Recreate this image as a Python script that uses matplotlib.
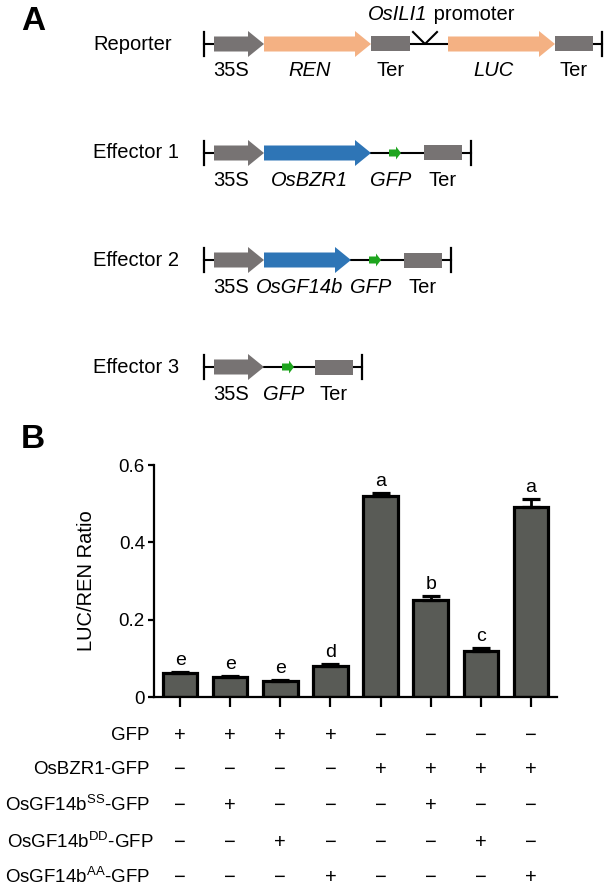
import matplotlib.pyplot as plt
from matplotlib.patches import Polygon, Rectangle
from matplotlib.transforms import blended_transform_factory

plt.rcParams['font.family'] = 'Liberation Sans'
plt.rcParams['mathtext.fontset'] = 'custom'
plt.rcParams['mathtext.rm'] = 'Liberation Sans'
plt.rcParams['mathtext.it'] = 'Liberation Sans:italic'

# ---- panel A: the constructs ----
construct_names = ['Reporter', 'Effector 1', 'Effector 2', 'Effector 3']
# (label, kind, length in px)
reporter_parts = [('35S', 'arrow', 50), ('REN', 'arrow', 107), ('Ter', 'box', 39),
                  ('', 'promoter', 38), ('LUC', 'arrow', 107), ('Ter', 'box', 38)]
effector1_parts = [('35S', 'arrow', 50), ('OsBZR1', 'arrow', 107), ('GFP', 'gfp', 53), ('Ter', 'box', 38)]
effector2_parts = [('35S', 'arrow', 50), ('OsGF14b', 'arrow', 87), ('GFP', 'gfp', 53), ('Ter', 'box', 38)]
effector3_parts = [('35S', 'arrow', 50), ('GFP', 'gfp', 51), ('Ter', 'box', 38)]
constructs = [reporter_parts, effector1_parts, effector2_parts, effector3_parts]
italic_labels = ['REN', 'LUC', 'OsBZR1', 'OsGF14b', 'GFP']

# ---- panel B: dual luciferase ----
ratio = [0.062, 0.052, 0.041, 0.080, 0.520, 0.251, 0.120, 0.491]
sem = [0.003, 0.003, 0.004, 0.005, 0.008, 0.010, 0.008, 0.022]
letters = ['e', 'e', 'e', 'd', 'a', 'b', 'c', 'a']
row_labels = ['GFP', 'OsBZR1-GFP', r'OsGF14b$^{\mathrm{SS}}$-GFP',
              r'OsGF14b$^{\mathrm{DD}}$-GFP', r'OsGF14b$^{\mathrm{AA}}$-GFP']
presence = [[1, 1, 1, 1, 0, 0, 0, 0],
            [0, 0, 0, 0, 1, 1, 1, 1],
            [0, 1, 0, 0, 0, 1, 0, 0],
            [0, 0, 1, 0, 0, 0, 1, 0],
            [0, 0, 0, 1, 0, 0, 0, 1]]

GRAY = '#777373'
PEACH = '#f4b183'
BLUE = '#2e75b6'
GREEN = '#1ea51e'
BAR = '#595b56'
part_colors = {'35S': GRAY, 'Ter': GRAY, 'REN': PEACH, 'LUC': PEACH,
               'OsBZR1': BLUE, 'OsGF14b': BLUE}

fig = plt.figure(figsize=(6.08, 8.88), dpi=100)
ax0 = fig.add_axes([0, 0, 1, 1])
ax0.set_xlim(0, 608)
ax0.set_ylim(888, 0)
ax0.axis('off')

ax0.text(21, 22, 'A', fontsize=24, fontweight='bold', va='center', ha='left')
ax0.text(21, 439, 'B', fontsize=24, fontweight='bold', va='center', ha='left')


def arrow(x0, length, y, color, body=7.5, head=13, hl=16):
    xh = x0 + length - hl
    pts = [(x0, y - body), (xh, y - body), (xh, y - head), (x0 + length, y),
           (xh, y + head), (xh, y + body), (x0, y + body)]
    ax0.add_patch(Polygon(pts, closed=True, fc=color, ec='none', zorder=3))


row_y = [44, 153, 260, 367]
tick_x = 204
for name, parts, y in zip(construct_names, constructs, row_y):
    ax0.text(93, y, name, fontsize=14.5, va='center', ha='left')
    ax0.plot([tick_x, tick_x], [y - 12, y + 12], color='black', lw=1.6)
    x = tick_x + 10
    ax0.plot([tick_x, x], [y, y], color='black', lw=1.5)
    for label, kind, length in parts:
        if kind == 'arrow':
            arrow(x, length, y, part_colors[label])
            lx = x + (length - 16) / 2
        elif kind == 'box':
            ax0.add_patch(Rectangle((x, y - 7.5), length, 15, fc=part_colors[label], ec='none', zorder=3))
            lx = x + length / 2
        elif kind == 'gfp':
            ax0.plot([x, x + length], [y, y], color='black', lw=1.5)
            arrow(x + 18, 12, y, GREEN, body=3.5, head=6.5, hl=5)
            lx = x + 20
        else:
            ax0.plot([x, x + length], [y, y], color='black', lw=1.5)
            mid = x + length / 2 - 4
            ax0.plot([mid - 12, mid, mid + 12], [y - 12, y, y - 12], color='black', lw=1.5)
            t1 = ax0.text(368, 14, 'OsILI1', fontsize=14.5, fontstyle='italic',
                          ha='left', va='center')
            ax0.annotate(' promoter', xy=(1, 0.5), xycoords=t1, fontsize=14.5,
                         ha='left', va='center')
            lx = None
        if lx is not None:
            style = 'italic' if label in italic_labels else 'normal'
            ax0.text(lx, y + 27, label, fontsize=14.5, ha='center', va='center', fontstyle=style)
        x += length
    ax0.plot([x, x + 9], [y, y], color='black', lw=1.5)
    ax0.plot([x + 9, x + 9], [y - 12, y + 12], color='black', lw=1.6)

# ---- bar chart ----
ax = fig.add_axes([154 / 608, 1 - 697 / 888, 403 / 608, 232 / 888])
xs = list(range(len(ratio)))
ax.bar(xs, ratio, width=0.69, color=BAR, edgecolor='black', linewidth=2.3, zorder=2)
ax.errorbar(xs, ratio, yerr=[[0] * len(sem), sem], fmt='none', ecolor='black',
            elinewidth=2, capsize=6.5, capthick=2.3, zorder=3)
for i, (v, e, l) in enumerate(zip(ratio, sem, letters)):
    ax.annotate(l, (i, v + e), xytext=(0, 5), textcoords='offset points',
                ha='center', va='baseline', fontsize=14)

ax.set_xlim(-0.52, 7.52)
ax.set_ylim(0, 0.6)
ax.set_yticks([0, 0.2, 0.4, 0.6])
ax.set_yticklabels(['0', '0.2', '0.4', '0.6'])
ax.set_xticks(xs)
ax.set_xticklabels([])
ax.spines['top'].set_visible(False)
ax.spines['right'].set_visible(False)
ax.spines['left'].set_linewidth(1.6)
ax.spines['bottom'].set_linewidth(1.6)
ax.tick_params(axis='y', length=4.5, width=1.6, labelsize=13.5, pad=2)
ax.tick_params(axis='x', length=7, width=1.6)
ax.set_ylabel('LUC/REN Ratio', fontsize=14.5)
ax.yaxis.set_label_coords(-0.145, 0.5)

# treatment table below the bars
tr = blended_transform_factory(ax.transData, ax0.transData)
table_y = [735, 769, 805, 842, 877]
label_right = [150, 150, 150, 154, 150]
for label, row, y, xr in zip(row_labels, presence, table_y, label_right):
    ax0.text(xr, y, label, fontsize=13.5, ha='right', va='center')
    for i, p in enumerate(row):
        ax0.text(i, y, '+' if p else '\u2212', transform=tr, fontsize=14.5,
                 ha='center', va='center')

fig.savefig('out.png', dpi=100)
